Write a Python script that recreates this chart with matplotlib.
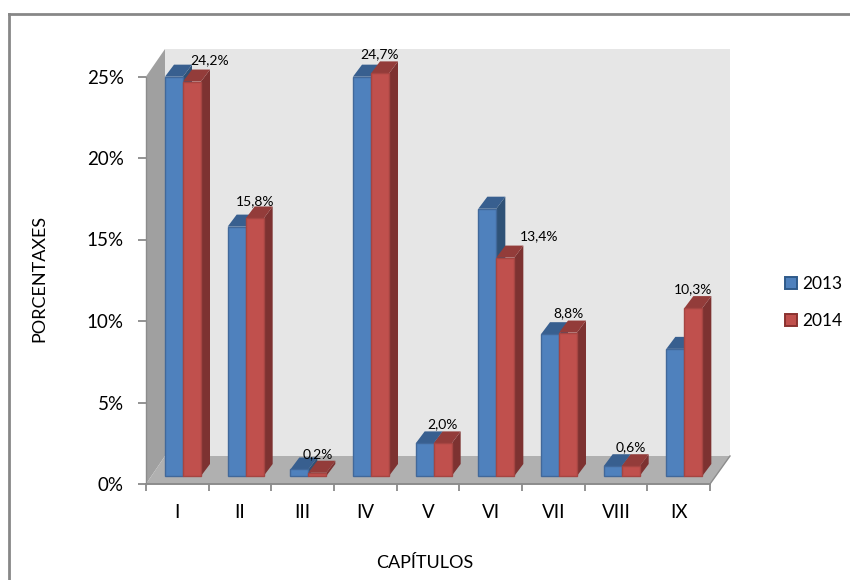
import matplotlib
matplotlib.use("Agg")
import matplotlib.pyplot as plt
from matplotlib.patches import Polygon, Rectangle

plt.rcParams['font.family'] = ['Lato', 'DejaVu Sans']

categories = ["I", "II", "III", "IV", "V", "VI", "VII", "VIII", "IX"]
values_2013 = [24.5, 15.3, 0.4, 24.5, 2.0, 16.4, 8.7, 0.6, 7.8]
values_2014 = [24.2, 15.8, 0.2, 24.7, 2.0, 13.4, 8.8, 0.6, 10.3]
labels_2014 = ["24,2%", "15,8%", "0,2%", "24,7%", "2,0%", "13,4%", "8,8%", "0,6%", "10,3%"]
y_ticks = [0, 5, 10, 15, 20, 25]
y_tick_labels = ["0%", "5%", "10%", "15%", "20%", "25%"]

W, H = 850, 580
fig = plt.figure(figsize=(W / 100, H / 100), dpi=100, facecolor="white")
L, R, B, T = 146, 710, 484, 76.5
ax = fig.add_axes([L / W, 1 - B / H, (R - L) / W, (B - T) / H])
ax.set_xlim(0, 9)
ax.set_ylim(0, 25)
ax.patch.set_visible(False)
for s in ax.spines.values():
    s.set_visible(False)

px = 9 / (R - L)          # data per pixel in x
py = 25 / (B - T)         # data per pixel in y
DX, DY = 19 * px, 28 * py      # wall depth
bar_w = 18 * px
off = 19 * px
base = 8 * py             # bars sit on the floor
bdx, bdy = 9 * px, 12 * py
# manually moved data labels (category index -> pixel shift)
label_shift = {0: (18, 2), 1: (0, -2), 5: (34, 2)}


def poly(pts, fc, ec=None, lw=0, z=1):
    ax.add_patch(Polygon(pts, closed=True, fc=fc, ec=ec or fc, lw=lw, zorder=z, clip_on=False))


top = 25 + 27.5 * py
poly([(DX, DY), (9 + DX + 1 * px, DY), (9 + DX + 1 * px, top), (DX, top)], "#e6e6e6", z=1)
poly([(0, 0), (DX, DY), (DX, top), (0, 25)], "#a0a0a0", z=1)
poly([(0, 0), (9, 0), (9 + DX + 1 * px, DY), (DX, DY)], "#b0b0b0", z=2)

# axis lines
ax.plot([0, 9], [0, 0], color="#8c8c8c", lw=1.4, zorder=3, clip_on=False)
ax.plot([0, 0], [0, 25], color="#8c8c8c", lw=1.0, zorder=3, clip_on=False)
ax.plot([9, 9 + DX + 1 * px], [0, DY], color="#8c8c8c", lw=1.0, zorder=3, clip_on=False)

ax.set_xticks(range(10))
ax.set_xticklabels([])
ax.set_yticks(y_ticks)
ax.set_yticklabels(y_tick_labels, fontsize=13.5, color="black")
ax.tick_params(axis="y", length=6, width=1.2, color="#808080", direction="out", pad=10)
ax.tick_params(axis="x", length=5, width=1.2, color="#808080", direction="out")
for i, c in enumerate(categories):
    ax.annotate(c, (i + 0.5, 0), xytext=(0, -28), textcoords="offset pixels",
                ha="center", va="center", fontsize=13.5, annotation_clip=False)


def bar3d(x0, v, front, side, topc, edge, z):
    y0, y1 = base, base + v
    x1 = x0 + bar_w
    poly([(x1, y0), (x1 + bdx, y0 + bdy), (x1 + bdx, y1 + bdy), (x1, y1)], side, z=z)
    poly([(x0, y1), (x1, y1), (x1 + bdx, y1 + bdy), (x0 + bdx, y1 + bdy)], topc, z=z)
    poly([(x0, y0), (x1, y0), (x1, y1), (x0, y1)], front, ec=edge, lw=1.0, z=z + 0.1)


for i, (a, b) in enumerate(zip(values_2013, values_2014)):
    x = i + off
    bar3d(x, a, "#4f81bd", "#2f5277", "#385f8f", "#41689a", 4 + i * 0.01)
    bar3d(x + bar_w, b, "#c0504d", "#7d3231", "#933c3a", "#a54542", 5 + i * 0.01)
    sx, sy = label_shift.get(i, (0, 0))
    ax.annotate(labels_2014[i], (x + bar_w * 1.5, base + b + bdy),
                xytext=(sx, 7 + sy), textcoords="offset pixels", ha="center", va="center",
                fontsize=10, color="black", zorder=8, annotation_clip=False)

fig.text(39 / W, 1 - 278 / H, "PORCENTAXES", rotation=90, ha="center", va="center", fontsize=13)
fig.text(425 / W, 1 - 563 / H, "CAPÍTULOS", ha="center", va="center", fontsize=13)

for yy, lab, fc, ec in [(283, "2013", "#4f81bd", "#2f5a8a"), (320, "2014", "#c0504d", "#8a3230")]:
    fig.patches.append(Rectangle((785 / W, 1 - (yy + 6) / H), 12 / W, 12 / H, transform=fig.transFigure,
                                 fc=fc, ec=ec, lw=1.4))
    fig.text(802 / W, 1 - (yy + 1) / H, lab, ha="left", va="center", fontsize=12.5)

# chart frame
fig.add_artist(plt.Line2D([9 / W, 9 / W], [0, 1 - 14 / H], color="#878787", lw=2))
fig.add_artist(plt.Line2D([9 / W, 1], [1 - 14 / H, 1 - 14 / H], color="#878787", lw=2))

fig.savefig("out.png", dpi=100, facecolor="white")
